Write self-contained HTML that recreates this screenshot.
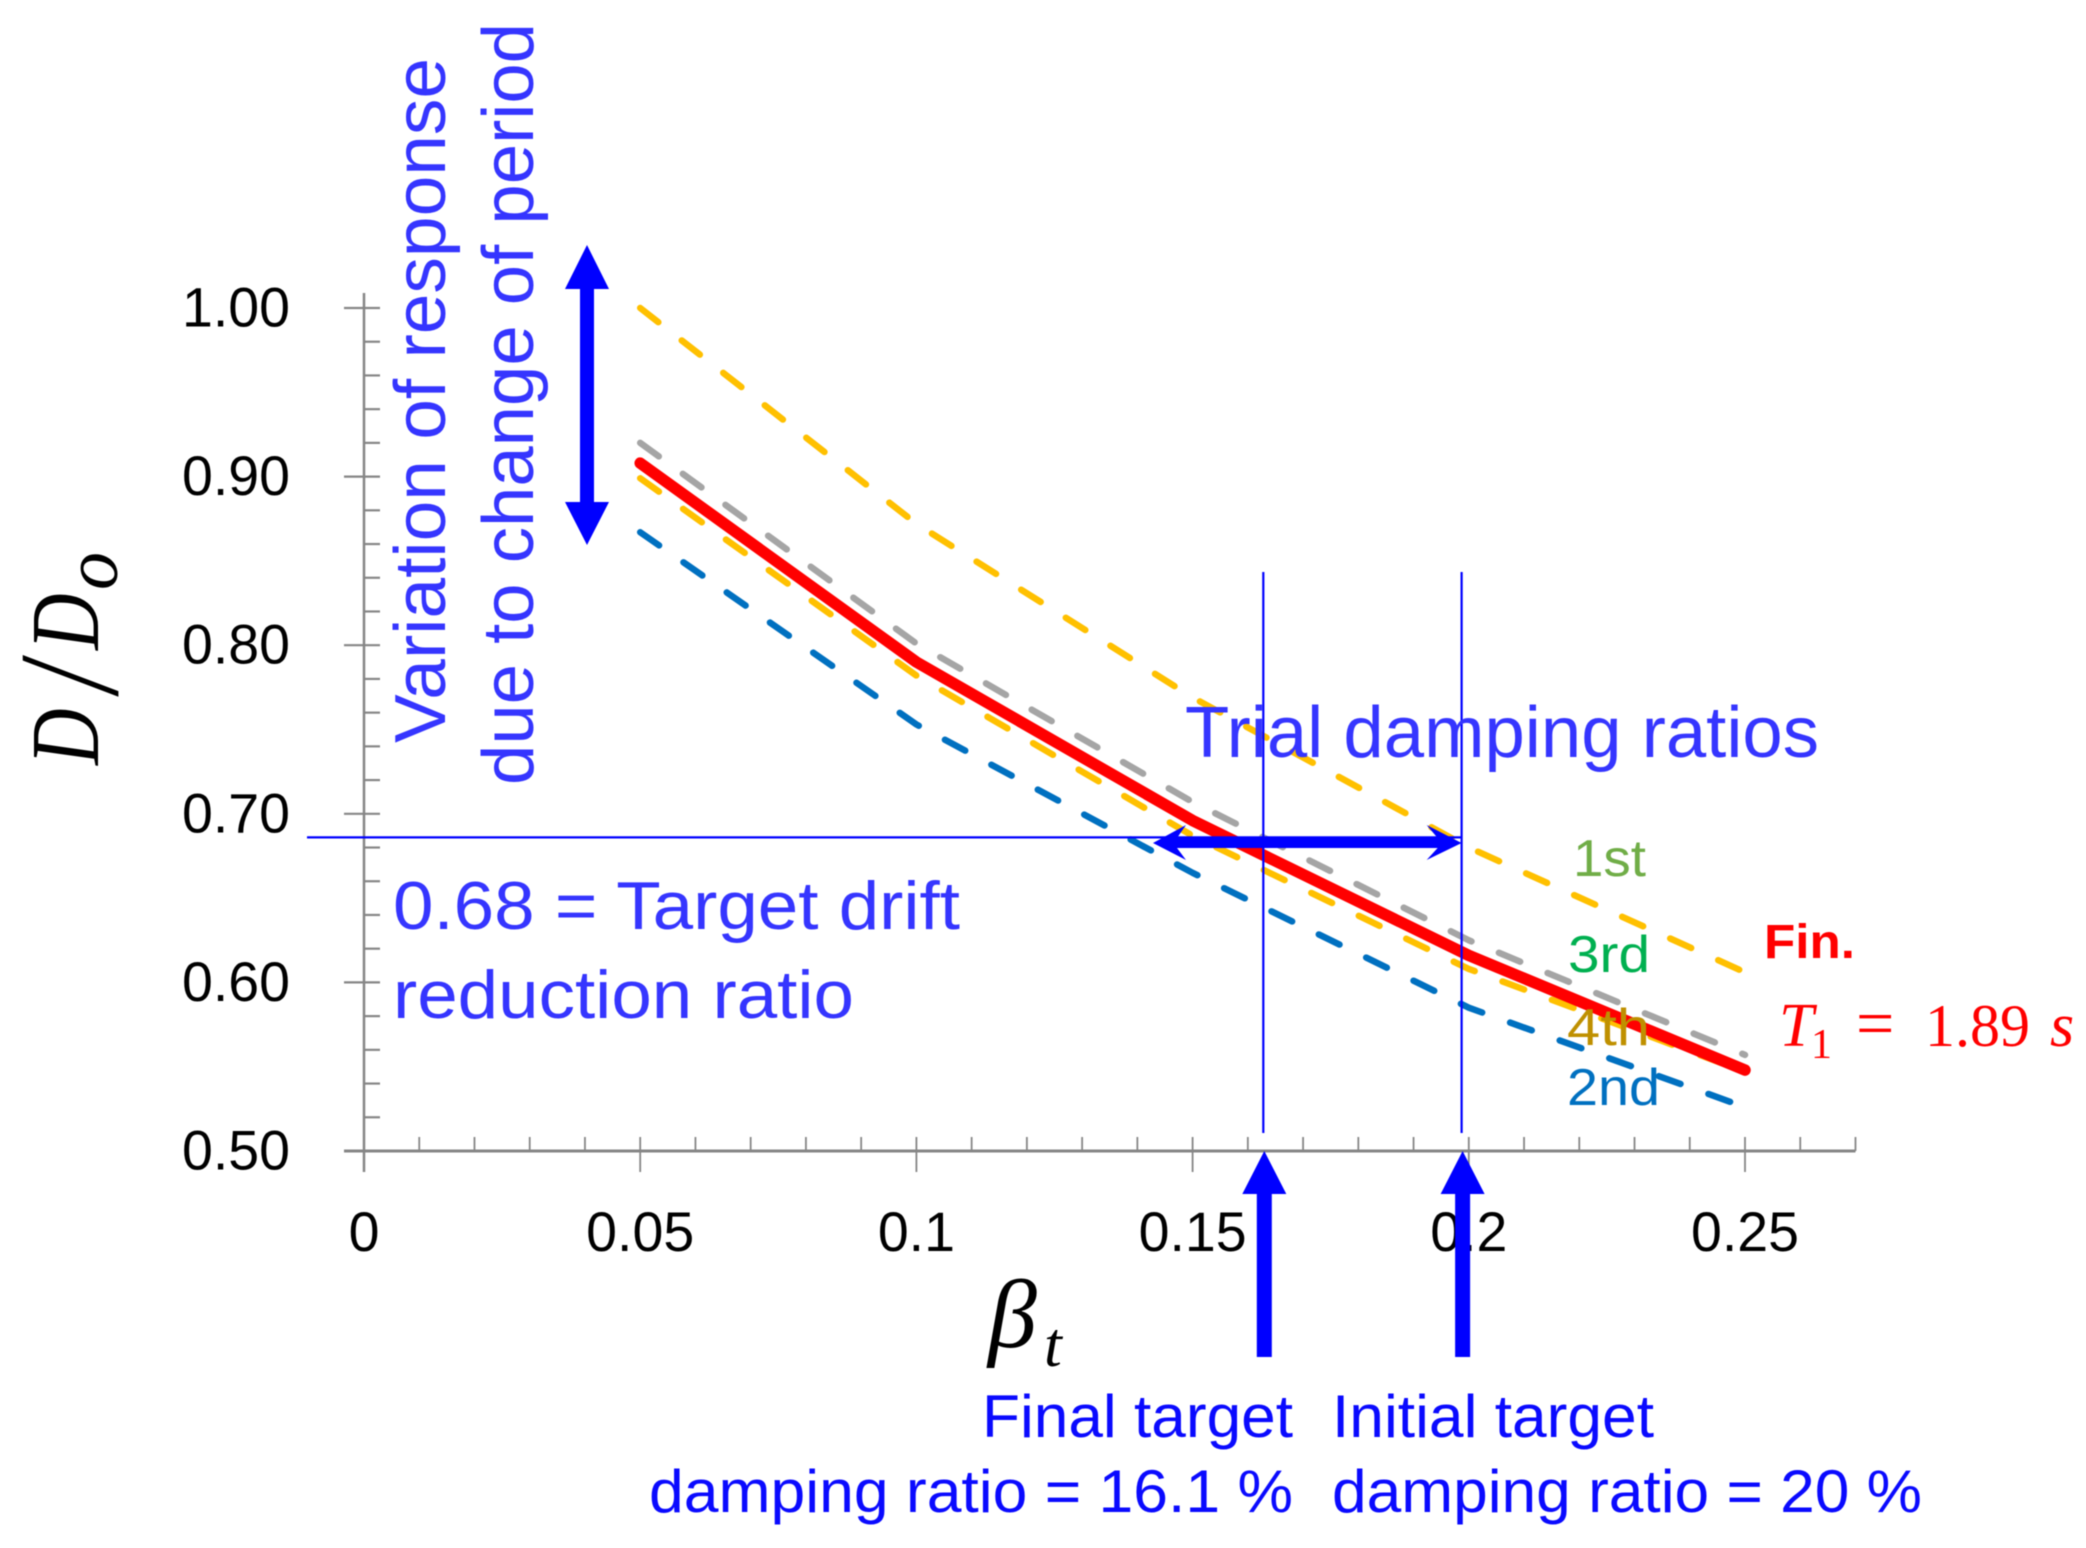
<!DOCTYPE html>
<html lang="en">
<head>
<meta charset="utf-8">
<title>Drift reduction ratio versus damping ratio</title>
<style>
html,body{margin:0;padding:0;background:#fff;width:2086px;height:1548px;overflow:hidden}
svg{display:block;filter:blur(0.6px)}
text{font-family:"Liberation Sans",sans-serif}
.serif{font-family:"Liberation Serif",serif}
.tick{font-size:55.5px;fill:#000}
.note{fill:#3535ff}
.note2{fill:#0a0aff}
</style>
</head>
<body>
<svg id="chart" xmlns="http://www.w3.org/2000/svg" width="2086" height="1548" viewBox="0 0 2086 1548">
  <g id="axes"></g>
  <g id="series"></g>
  <g id="annotations"></g>

  <g font-style="italic" fill="#000">
    <text class="serif" transform="translate(98,765) rotate(-90) scale(0.8,1)" font-size="98">D</text>
    <text class="serif" transform="translate(117,692) rotate(-90) scale(0.73,1)" font-size="143">/</text>
    <text class="serif" transform="translate(98,650) rotate(-90) scale(0.8,1)" font-size="98">D</text>
    <text class="serif" transform="translate(117,590) rotate(-90)" font-size="76">o</text>
  </g>
  <text class="serif" x="988" y="1347" font-size="98" font-style="italic" fill="#000">β<tspan font-size="64" x="1044" y="1366">t</tspan></text>

  <text class="note" transform="translate(445,743) rotate(-90)" font-size="72" textLength="685" lengthAdjust="spacingAndGlyphs">Variation of response</text>
  <text class="note" transform="translate(533,785) rotate(-90)" font-size="72" textLength="762" lengthAdjust="spacingAndGlyphs">due to change of period</text>
  <text class="note" x="1185" y="757" font-size="72" textLength="634" lengthAdjust="spacingAndGlyphs">Trial damping ratios</text>
  <text class="note" x="393" y="929" font-size="68" textLength="567" lengthAdjust="spacingAndGlyphs">0.68 = Target drift</text>
  <text class="note" x="393" y="1018" font-size="68" textLength="461" lengthAdjust="spacingAndGlyphs">reduction ratio</text>
  <text class="note2" x="982" y="1437" font-size="60" textLength="311" lengthAdjust="spacingAndGlyphs">Final target</text>
  <text class="note2" x="649" y="1512" font-size="60" textLength="644" lengthAdjust="spacingAndGlyphs">damping ratio = 16.1 %</text>
  <text class="note2" x="1332" y="1437" font-size="60" textLength="322" lengthAdjust="spacingAndGlyphs">Initial target</text>
  <text class="note2" x="1332" y="1512" font-size="60" textLength="590" lengthAdjust="spacingAndGlyphs">damping ratio = 20 %</text>

  <text x="1573" y="876" font-size="52" fill="#70ad47" textLength="73" lengthAdjust="spacingAndGlyphs">1st</text>
  <text x="1568" y="972" font-size="52" fill="#00b050" textLength="82" lengthAdjust="spacingAndGlyphs">3rd</text>
  <text x="1567" y="1045" font-size="52" fill="#bf9000" textLength="83" lengthAdjust="spacingAndGlyphs">4th</text>
  <text x="1567" y="1105" font-size="52" fill="#0070c0" textLength="93" lengthAdjust="spacingAndGlyphs">2nd</text>
  <text x="1764" y="958" font-size="48" font-weight="bold" fill="#ff0000" textLength="91" lengthAdjust="spacingAndGlyphs">Fin.</text>
  <text class="serif" x="1779" y="1046" font-size="62" fill="#ff0000"><tspan font-style="italic">T</tspan><tspan font-size="42" x="1811" y="1058">1</tspan><tspan font-size="68" x="1856" y="1046">=</tspan><tspan font-size="60" x="1925" y="1046">1.89</tspan><tspan font-style="italic" x="2050" y="1046">s</tspan></text>
</svg>

<script>
var xTicks = [0, 0.05, 0.1, 0.15, 0.2, 0.25];
var xMinorTicks = [0.01, 0.02, 0.03, 0.04, 0.06, 0.07, 0.08, 0.09, 0.11, 0.12, 0.13, 0.14, 0.16, 0.17, 0.18, 0.19, 0.21, 0.22, 0.23, 0.24, 0.26, 0.27];
var yTicks = [0.5, 0.6, 0.7, 0.8, 0.9, 1.0];
var yMinorTicks = [0.52, 0.54, 0.56, 0.58, 0.62, 0.64, 0.66, 0.68, 0.72, 0.74, 0.76, 0.78, 0.82, 0.84, 0.86, 0.88, 0.92, 0.94, 0.96, 0.98];
var betaValues = [0.05, 0.1, 0.15, 0.2, 0.25];
var trial1st = [1.0, 0.872, 0.769, 0.68, 0.606];
var trial2nd = [0.867, 0.753, 0.665, 0.585, 0.526];
var trial3rd = [0.92, 0.801, 0.707, 0.625, 0.557];
var trial4th = [0.899, 0.782, 0.687, 0.608, 0.547];
var finalTrial = [0.908, 0.79, 0.696, 0.616, 0.548];
var targetBetas = [0.1628, 0.1987];
var targetRatio = [0.686];

var NS = 'http://www.w3.org/2000/svg';
function xScale(v) { return 364 + v * 5524; }
function yScale(v) { return 1151 - (v - 0.5) * 1686; }
function make(parent, tag, attrs, text) {
  var el = document.createElementNS(NS, tag);
  for (var k in attrs) { el.setAttribute(k, attrs[k]); }
  if (text !== undefined) { el.textContent = text; }
  parent.appendChild(el);
  return el;
}
function arrowPoints(x, tip, base, end, half, shaft) {
  return [[x, tip], [x + half, base], [x + shaft, base], [x + shaft, end], [x - shaft, end], [x - shaft, base], [x - half, base]]
    .map(function (p) { return p.join(','); }).join(' ');
}

var axes = document.getElementById('axes');
var series = document.getElementById('series');
var annotations = document.getElementById('annotations');
var axisColor = '#868686';
var el;

el = make(axes, 'line', { x1: xScale(0), x2: xScale(0), y1: 293, y2: 1172, stroke: axisColor, 'stroke-width': 2.5 });


el = make(axes, 'line', { x1: 344, x2: xScale(0.27), y1: yScale(0.5), y2: yScale(0.5), stroke: axisColor, 'stroke-width': 3 });



xMinorTicks.forEach(function (v) {
  var t = make(axes, 'line', { x1: xScale(v), x2: xScale(v), y1: 1137, y2: 1151, stroke: axisColor, 'stroke-width': 1.8 });
  
  
});
xTicks.forEach(function (v) {
  var t = make(axes, 'line', { x1: xScale(v), x2: xScale(v), y1: 1137, y2: 1172, stroke: axisColor, 'stroke-width': 1.8 });
  
  
  var l = make(axes, 'text', { x: xScale(v), y: 1251, 'text-anchor': 'middle', 'class': 'tick' }, String(v));
  
  
});
yMinorTicks.forEach(function (v) {
  var t = make(axes, 'line', { x1: 365, x2: 380, y1: yScale(v), y2: yScale(v), stroke: axisColor, 'stroke-width': 2.2 });
  
  
});
yTicks.forEach(function (v) {
  var t = make(axes, 'line', { x1: 344, x2: 380, y1: yScale(v), y2: yScale(v), stroke: axisColor, 'stroke-width': 2.2 });
  
  
  var l = make(axes, 'text', { x: 290, y: yScale(v) + 18.5, 'text-anchor': 'end', 'class': 'tick' }, v.toFixed(2));
  
  
});

function linePoints(values) {
  return values.map(function (v, i) { return xScale(betaValues[i]) + ',' + yScale(v); }).join(' ');
}
function dashedStyle(color) {
  return { fill: 'none', stroke: color, 'stroke-width': 6.5, 'stroke-dasharray': '23 29.7', 'stroke-linecap': 'round', 'stroke-linejoin': 'round' };
}
function addLine(values, style) {
  var attrs = { points: linePoints(values) };
  for (var k in style) { attrs[k] = style[k]; }
  return make(series, 'polyline', attrs);
}

el = addLine(trial1st, dashedStyle('#ffc000'));


el = addLine(trial2nd, dashedStyle('#0070c0'));


el = addLine(trial3rd, dashedStyle('#a5a5a5'));


el = addLine(trial4th, dashedStyle('#ffc000'));


el = addLine(finalTrial, { fill: 'none', stroke: '#ff0000', 'stroke-width': 11.5, 'stroke-linecap': 'round', 'stroke-linejoin': 'round' });



var guideY = yScale(targetRatio[0]);
el = make(annotations, 'line', { x1: 307, x2: xScale(targetBetas[1]), y1: guideY, y2: guideY, stroke: '#0000ff', 'stroke-width': 2.2 });



targetBetas.forEach(function (b) {
  var x = xScale(b);
  var g = make(annotations, 'line', { x1: x, x2: x, y1: 572, y2: 1133, stroke: '#0000ff', 'stroke-width': 2.2 });
  
  
  var a = make(annotations, 'polygon', { points: arrowPoints(x + 1, 1151, 1194, 1357, 22, 7.5), fill: '#0000ff' });
  
  
});

el = make(annotations, 'polygon', {
  points: '587,245 609,289 594,289 594,502 609,502 587,545 565,502 580,502 580,289 565,289',
  fill: '#0000ff'
});



var rightX = xScale(targetBetas[1]);
el = make(annotations, 'polygon', {
  points: '1153,843 1186,825 1177,838 ' + (rightX - 24) + ',838 ' + (rightX - 35) + ',825 ' + rightX + ',843 ' + (rightX - 35) + ',860 ' + (rightX - 24) + ',848 1177,848 1186,860',
  fill: '#0000ff'
});


</script>
</body>
</html>
